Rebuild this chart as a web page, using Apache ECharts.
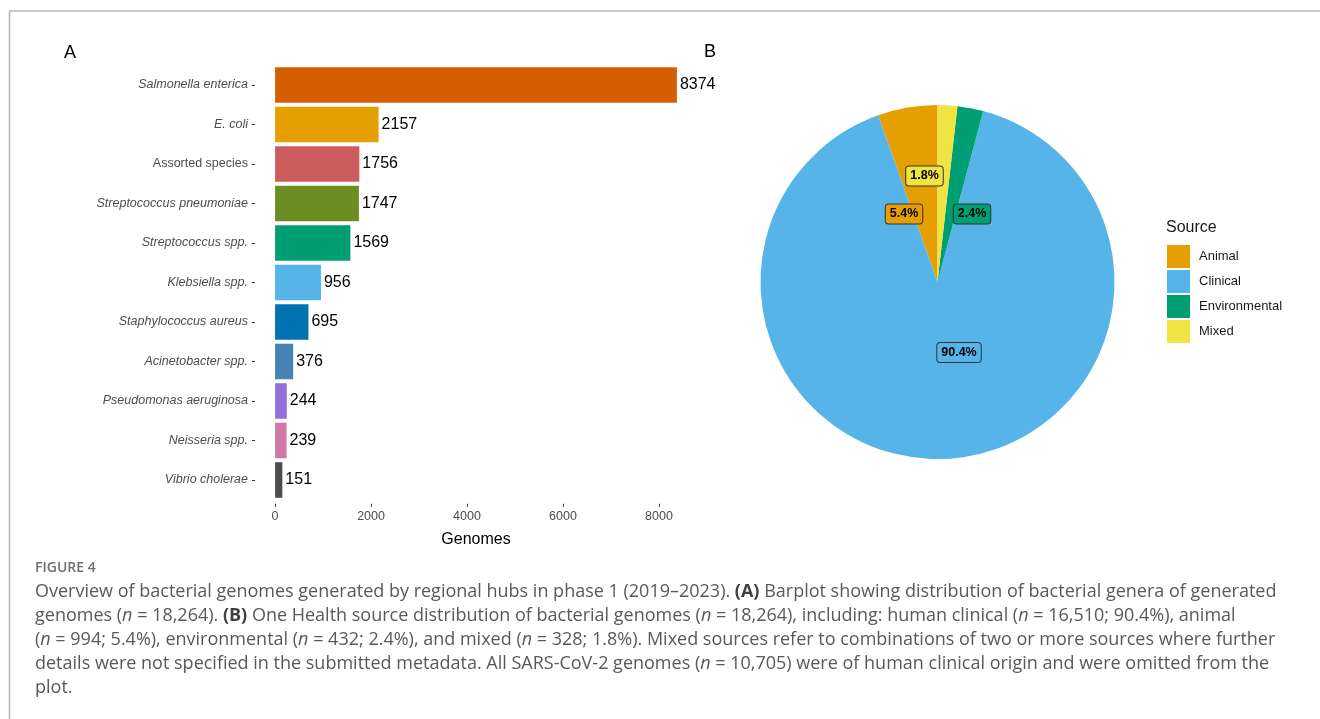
<!DOCTYPE html>
<html>
<head>
<meta charset="utf-8">
<script src="https://cdn.jsdelivr.net/npm/echarts@6/dist/echarts.min.js"></script>
<style>
  html, body { margin: 0; padding: 0; background: #ffffff; }
  #chart { width: 1320px; height: 719px; }
</style>
</head>
<body>
<div id="chart"></div>
<script>
// ---- Data (panel A) ----
const categories = ['Salmonella enterica', 'E. coli', 'Assorted species', 'Streptococcus pneumoniae',
  'Streptococcus spp.', 'Klebsiella spp.', 'Staphylococcus aureus', 'Acinetobacter spp.',
  'Pseudomonas aeruginosa', 'Neisseria spp.', 'Vibrio cholerae'];
const genomes = [8374, 2157, 1756, 1747, 1569, 956, 695, 376, 244, 239, 151];
const barColors = ['#D55E00', '#E69F00', '#CD5C5C', '#6B8E23', '#009E73', '#56B4E9',
  '#0072B2', '#4682B4', '#9370DB', '#CC79A7', '#4D4D4D'];
const uprightLabels = ['Assorted species'];
const xTicks = [0, 2000, 4000, 6000, 8000];

// ---- Data (panel B) ----
const sources = ['Animal', 'Clinical', 'Environmental', 'Mixed'];
const sourceCounts = [994, 16510, 432, 328];
const sourceColors = ['#E69F00', '#56B4E9', '#009E73', '#F0E442'];

// ---- Caption ----
const captionLines = [
  'Overview of bacterial genomes generated by regional hubs in phase 1 (2019\u20132023). {b|(A)} Barplot showing distribution of bacterial genera of generated',
  'genomes ({i|n} = 18,264). {b|(B)} One Health source distribution of bacterial genomes ({i|n} = 18,264), including: human clinical ({i|n} = 16,510; 90.4%), animal',
  '({i|n} = 994; 5.4%), environmental ({i|n} = 432; 2.4%), and mixed ({i|n} = 328; 1.8%). Mixed sources refer to combinations of two or more sources where further',
  'details were not specified in the submitted metadata. All SARS-CoV-2 genomes ({i|n} = 10,705) were of human clinical origin and were omitted from the',
  'plot.'
];

const SANS = '"Liberation Sans", Arial, Helvetica, sans-serif';
const CAP = '"Open Sans", "Noto Sans", sans-serif';

const chart = echarts.init(document.getElementById('chart'), null, { renderer: 'canvas' });

const maxVal = Math.max(...genomes);
const total = sourceCounts.reduce((a, b) => a + b, 0);

// pie geometry and label nudges (relative to pie centre)
const pieCenter = [937.5, 282];
const pieLabelOffsets = [[-33.5, -68], [21.5, 70.5], [34.5, -68], [-13, -106]];

const capStyle = { fontSize: 18, fontFamily: CAP, fill: '#595959' };
const captionGraphics = captionLines.map((t, k) => ({
  type: 'text',
  left: 35,
  top: 592 + k * 24 - 12,
  style: {
    text: t,
    fontSize: capStyle.fontSize,
    fontFamily: capStyle.fontFamily,
    fill: capStyle.fill,
    lineHeight: 24,
    rich: {
      b: { fontSize: capStyle.fontSize, fontFamily: capStyle.fontFamily, fill: '#404040', fontWeight: 'bold', lineHeight: 24 },
      i: { fontSize: capStyle.fontSize, fontFamily: capStyle.fontFamily, fill: capStyle.fill, fontStyle: 'italic', lineHeight: 24 }
    }
  }
}));

const option = {
  animation: false,
  backgroundColor: '#ffffff',
  title: {
    text: 'Source',
    left: 1166,
    top: 220,
    padding: 0,
    textStyle: { fontSize: 16, fontWeight: 'normal', color: '#1a1a1a', fontFamily: SANS }
  },
  legend: {
    data: sources,
    orient: 'vertical',
    left: 1167,
    top: 245,
    padding: 0,
    itemWidth: 23,
    itemHeight: 23,
    itemGap: 2,
    icon: 'rect',
    selectedMode: false,
    textStyle: { fontSize: 13, color: '#1a1a1a', fontFamily: SANS, padding: [0, 0, 0, 4] }
  },
  grid: {
    left: 255,
    width: 442,
    top: 65.25,
    height: 434.5,
    containLabel: false
  },
  xAxis: {
    type: 'value',
    min: -0.05 * maxVal,
    max: 1.05 * maxVal,
    offset: 4,
    name: 'Genomes',
    nameLocation: 'middle',
    nameGap: 28,
    nameTextStyle: { fontSize: 16, color: '#000', fontFamily: SANS },
    axisLine: { show: false },
    splitLine: { show: false },
    axisTick: { show: true, length: 3, customValues: xTicks, lineStyle: { color: '#333', width: 1 } },
    axisLabel: {
      show: true, customValues: xTicks, margin: 6, fontSize: 12.5, color: '#4d4d4d', fontFamily: SANS,
      formatter: v => String(Math.round(v))
    }
  },
  yAxis: {
    type: 'category',
    data: categories,
    inverse: true,
    axisLine: { show: false, onZero: false },
    axisTick: { show: true, length: 3, alignWithLabel: true, lineStyle: { color: '#333', width: 1 } },
    axisLabel: {
      margin: 7,
      fontSize: 12.5,
      color: '#4d4d4d',
      fontFamily: SANS,
      formatter: v => (uprightLabels.includes(v) ? '{n|' + v + '}' : '{i|' + v + '}'),
      rich: {
        i: { fontStyle: 'italic', fontSize: 12.5, color: '#4d4d4d', fontFamily: SANS },
        n: { fontSize: 12.5, color: '#4d4d4d', fontFamily: SANS }
      }
    },
    splitLine: { show: false }
  },
  series: [
    {
      type: 'bar',
      data: genomes.map((v, i) => ({ value: v, itemStyle: { color: barColors[i] } })),
      barWidth: '90%',
      label: {
        show: true,
        position: 'right',
        distance: 3,
        fontSize: 16,
        color: '#000',
        fontFamily: SANS
      },
      emphasis: { disabled: true }
    },
    {
      type: 'pie',
      center: pieCenter,
      radius: 177,
      startAngle: 90,
      clockwise: false,
      avoidLabelOverlap: false,
      emphasis: { disabled: true },
      data: sources.map((s, i) => ({
        name: s,
        value: sourceCounts[i],
        itemStyle: { color: sourceColors[i] },
        label: { backgroundColor: sourceColors[i] }
      })),
      label: {
        show: true,
        position: 'inside',
        formatter: p => (p.value / total * 100).toFixed(1) + '%',
        fontSize: 12.5,
        fontWeight: 'bold',
        color: '#000',
        fontFamily: SANS,
        borderColor: '#333',
        borderWidth: 1,
        borderRadius: 3,
        padding: [3, 4, 3, 4],
        align: 'center',
        verticalAlign: 'middle'
      },
      labelLine: { show: false },
      labelLayout: p => {
        const o = pieLabelOffsets[p.dataIndex];
        return { x: pieCenter[0] + o[0], y: pieCenter[1] + o[1], align: 'center', verticalAlign: 'middle' };
      }
    }
  ],
  graphic: [
    { type: 'line', shape: { x1: 9, y1: 11, x2: 1320, y2: 11 }, style: { stroke: '#b5b5b5', lineWidth: 1.5 } },
    { type: 'line', shape: { x1: 9.5, y1: 11, x2: 9.5, y2: 719 }, style: { stroke: '#b5b5b5', lineWidth: 1.5 } },
    { type: 'text', left: 64, top: 44, style: { text: 'A', fontSize: 18, fontFamily: SANS, fill: '#000' } },
    { type: 'text', left: 704, top: 43, style: { text: 'B', fontSize: 18, fontFamily: SANS, fill: '#000' } },
    { type: 'text', left: 35, top: 561, style: { text: 'FIGURE 4', fontSize: 14, fontWeight: 600, fontFamily: CAP, fill: '#6e6e6e' } },
    ...captionGraphics
  ]
};

chart.setOption(option);
</script>
</body>
</html>
